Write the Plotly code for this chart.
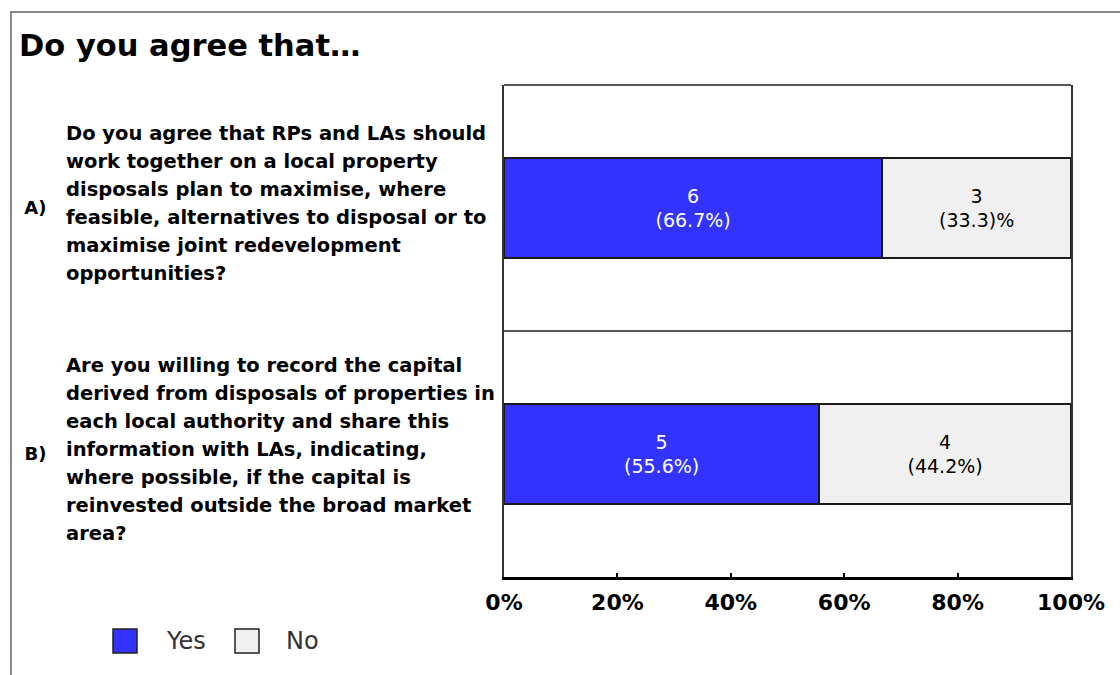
import plotly.graph_objects as go

# ---- data ----
categories = ["A)", "B)"]
questions = [
    ["Do you agree that RPs and LAs should",
     "work together on a local property",
     "disposals plan to maximise, where",
     "feasible, alternatives to disposal or to",
     "maximise joint redevelopment",
     "opportunities?"],
    ["Are you willing to record the capital",
     "derived from disposals of properties in",
     "each local authority and share this",
     "information with LAs, indicating,",
     "where possible, if the capital is",
     "reinvested outside the broad market",
     "area?"],
]
series_names = ["Yes", "No"]
yes_counts = [6, 5]
no_counts = [3, 4]
yes_pct = [66.7, 55.6]
no_pct = [33.3, 44.4]
yes_labels = ["6<br>(66.7%)", "5<br>(55.6%)"]
no_labels = ["3<br>(33.3)%", "4<br>(44.2%)"]
x_ticks = [0, 20, 40, 60, 80, 100]
x_ticktext = ["0%", "20%", "40%", "60%", "80%", "100%"]

YES_COLOR = "#3333FF"
NO_COLOR = "#F0F0F0"
FONT = "DejaVu Sans, Verdana, sans-serif"

fig = go.Figure()
fig.add_trace(go.Bar(
    name=series_names[0], y=categories, x=yes_pct, orientation="h",
    marker=dict(color=YES_COLOR, line=dict(color="#1a1a1a", width=2)),
    text=yes_labels, textposition="inside", insidetextanchor="middle",
    textangle=0, textfont=dict(color="white", size=19, family=FONT),
    customdata=yes_counts, showlegend=False,
))
fig.add_trace(go.Bar(
    name=series_names[1], y=categories, x=no_pct, orientation="h",
    marker=dict(color=NO_COLOR, line=dict(color="#1a1a1a", width=2)),
    text=no_labels, textposition="inside", insidetextanchor="middle",
    textangle=0, textfont=dict(color="black", size=19, family=FONT),
    customdata=no_counts, showlegend=False,
))

L, R, T, B = 504, 1071, 85, 577
W, H = 1120, 675

def px_x(p):
    return (p - L) / (R - L)

def px_y(p):
    return (B - p) / (B - T)

annotations = []
spacing = 28
for cat, lines in zip(categories, questions):
    n = len(lines)
    for i, line in enumerate(lines):
        annotations.append(dict(
            text=line, xref="paper", x=px_x(64), xanchor="left",
            yref="y", y=cat, yanchor="middle",
            yshift=((n - 1) / 2 - i) * spacing + 5,
            showarrow=False,
            font=dict(family=FONT, size=19.5, color="black", weight="bold"),
        ))

shapes = [
    # outer frame
    dict(type="rect", xref="paper", yref="paper",
         x0=px_x(11), x1=px_x(1135), y0=px_y(700), y1=px_y(12),
         line=dict(color="#888888", width=2), layer="below"),
    # plot top border
    dict(type="line", xref="paper", yref="paper", x0=0, x1=1, y0=1, y1=1,
         line=dict(color="#555555", width=2)),
    # category divider
    dict(type="line", xref="paper", yref="y", x0=0, x1=1, y0=0.5, y1=0.5,
         line=dict(color="#555555", width=2)),
]

# legend (large swatches like the reference)
legend_items = [(series_names[0], YES_COLOR, 113, 164), (series_names[1], NO_COLOR, 235, 284)]
for name, color, bx, tx in legend_items:
    shapes.append(dict(type="rect", xref="paper", yref="paper",
                       x0=px_x(bx), x1=px_x(bx + 24), y0=px_y(653), y1=px_y(629),
                       fillcolor=color, line=dict(color="#222222", width=1.5)))
    annotations.append(dict(text=name, xref="paper", x=px_x(tx), xanchor="left",
                            yref="paper", y=px_y(641), yanchor="middle",
                            showarrow=False,
                            font=dict(family=FONT, size=24, color="#333333")))

fig.update_layout(
    width=W, height=H,
    margin=dict(l=L, r=W - R, t=T, b=H - B, pad=0),
    paper_bgcolor="white", plot_bgcolor="white",
    barmode="stack", bargap=0.59,
    title=dict(text="Do you agree that…", xref="container", x=19 / W,
               xanchor="left", yref="container", y=1 - 45 / H, yanchor="middle",
               font=dict(family=FONT, size=30.5, color="black", weight="bold")),
    xaxis=dict(range=[0, 100], tickvals=x_ticks, ticktext=x_ticktext,
               showgrid=False, zeroline=False,
               showline=True, linecolor="black", linewidth=3,
               ticks="inside", ticklen=4, tickcolor="black", tickwidth=2,
               ticklabelstandoff=4,
               tickfont=dict(family=FONT, size=22, color="black", weight="bold"),
               fixedrange=True),
    yaxis=dict(autorange="reversed", showgrid=False, zeroline=False,
               showline=True, linecolor="#333333", linewidth=2, mirror=True,
               ticks="", ticklabelstandoff=452,
               tickfont=dict(family=FONT, size=18, color="black", weight="bold"),
               fixedrange=True),
    showlegend=False,
    annotations=annotations,
    shapes=shapes,
)

fig.write_html("out.html")
